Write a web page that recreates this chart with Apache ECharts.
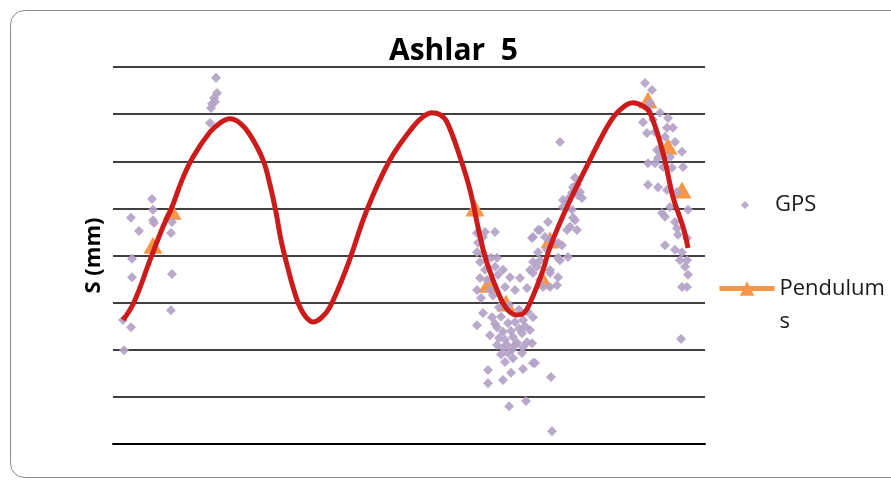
<!DOCTYPE html>
<html><head><meta charset="utf-8">
<script src="https://cdn.jsdelivr.net/npm/echarts@6/dist/echarts.min.js"></script>
<style>html,body{margin:0;padding:0;background:#fff}#c{width:891px;height:482px}</style>
</head><body><div id="c"></div>
<script>
var titleText = 'Ashlar  5';
var yAxisName = 'S (mm)';
var seriesNames = ['GPS', 'Pendulums'];

var gpsData = [
  [9.75,1.20],[10,0.97],[4.5,0.80],[10,0.75],[10.25,0.69],[6.5,0.52],[14.75,0.71],[14.5,0.48],[4.75,-0.07],[4.75,-0.46],[14.75,-0.39],[14.5,-1.16],[2.5,-1.37],[4.5,-1.52],[2.75,-2.01],
  [25.75,3.77],[26,3.45],[25.25,3.34],[24.75,3.22],[24.5,3.13],[25.5,3.26],[24.25,2.81],
  [91,0.48],[93,0.50],[95.5,0.50],[91.25,0.27],[91,0.07],[92.5,0.05],[96,-0.05],[91.75,-0.14],[95.5,-0.24],[91.75,-0.48],[93.5,-0.52],[91,-0.73],[96.25,-0.41],[99.25,-0.46],[101.75,-0.48],[94.25,-0.73],[98,-0.67],[100.5,-0.73],[103.5,-0.69],[104.25,-0.31],[105,-0.14],[104.75,0.37],[106.75,0.54],[108.75,0.71],[109.25,0.33],[111.25,0.27],[108.5,0.12],[106.25,0.07],[111.75,-0.10],[109.25,-0.31],[106.75,-0.52],[109.25,-0.67],[111.25,-0.46],[113.75,-0.03],[113.5,0.54],[116,0.54],[115.5,0.75],[114.75,0.97],[112.5,1.18],[114.25,1.24],[116.25,1.28],[115,1.45],[92.5,0.39],
  [93,-0.30],[94.5,-0.05],[92,-0.90],[95,-0.85],[97.5,-0.30],
  [92.5,-1.22],[91,-1.48],[94.75,-1.31],[94.25,-1.69],[96,-1.52],[97.5,-1.62],[98.75,-1.43],[100.5,-1.41],[102.5,-1.37],[103.75,-1.20],[104.25,-1.58],[102.25,-1.65],[100,-1.73],[98,-1.79],[96,-1.90],[97.5,-1.96],[100.5,-1.90],[102.5,-1.94],[103.5,-1.84],[102.25,-2.07],[98.75,-2.07],[98,-2.26],[100,-2.18],[105,-2.28],[93.75,-2.43],[93.75,-2.71],[97.5,-2.64],[99.5,-2.49],[102.5,-2.41],[109.5,-2.58],[99,-3.20],[103.25,-3.09],[109.75,-3.73],
  [99,-1.05],[101.5,-1.15],[96.5,-1.10],
  [97,-1.30],[99.5,-1.60],[101,-1.85],[96.5,-1.75],[98.5,-1.90],[101.5,-1.55],[95.5,-1.45],[103,-1.50],[99.75,-2.00],[97,-2.10],
  [111.75,2.41],[115.5,1.65],[116,1.50],[116.75,1.35],[114.75,1.33],[117.25,1.22],[113.5,1.14],[112.5,1.03],[115,0.80],[114.25,0.61],[106.25,0.54],[105,0.39],[108,0.39],[109.75,0.29],[112.25,0.22],[111.25,-0.05],[106.75,-0.10],[106,-0.24],[105,-0.37],[109.25,-0.37],[111,-0.63],[107.5,-0.67],[105,-1.31],[104.75,-1.86],[105.5,-2.28],
  [133,3.66],[134.75,3.51],[134.25,3.24],[133.75,3.15],[136.75,3.03],[132.5,2.83],[135,2.88],[138.75,2.92],[140,2.71],[138.5,2.71],[133.5,2.60],[135.5,2.62],[138,2.52],[140.5,2.41],[136,2.24],[137.25,2.20],[142.25,2.20],[136.25,2.07],[139.25,2.09],[133.75,1.96],[135.5,1.96],[137.5,1.88],[139.75,1.86],[142.5,1.88],[133.75,1.50],[136.25,1.45],[138.5,1.39],[141,1.35],[139.25,1.03],[143.75,0.97],[137.25,0.90],[138,0.82],[140.5,0.71],[141,0.58],[141.25,0.44],[143.5,0.37],[138,0.22],[140.5,0.12],[142.25,0.07],[141.75,-0.10],[143.5,-0.10],[143,-0.24],[143.75,-0.41],[142.25,-0.67],[143.5,-0.67],[142,-1.77]
];

var pendulumData = [
  [10,0.22],[14.75,0.94],[90.5,1.01],[93.75,-0.61],[98.25,-1.01],[107.5,-0.52],[109.25,0.33],[133.75,3.30],[138.75,2.32],[142.25,1.39]
];

var fitCurve = [
  [2.5,-1.37],[5.25,-0.99],[9.25,-0.10],[12.5,0.61],[14.75,1.03],[17.25,1.60],[20,2.09],[24.25,2.62],[26.75,2.81],[29.25,2.90],[31.75,2.81],[34.25,2.56],[37.5,2.03],[39.25,1.50],[40.75,0.92],[42,0.33],[43.5,-0.20],[46,-0.94],[48,-1.28],[50,-1.41],[52,-1.33],[54.25,-1.09],[58.5,-0.24],[63.5,0.97],[69.25,2.03],[75,2.73],[77.75,2.96],[79.75,3.03],[81.75,2.99],[83.5,2.83],[86.75,2.09],[89.25,1.39],[91.75,0.41],[93.5,-0.16],[96.75,-0.88],[98.75,-1.16],[101,-1.26],[102.75,-1.22],[104.25,-1.01],[107.5,-0.31],[109.25,0.18],[113.5,1.03],[119.25,2.03],[121.75,2.45],[124.25,2.83],[126.75,3.09],[130,3.24],[132.5,3.17],[134.25,3.03],[137.5,2.18],[140,1.24],[142.5,0.61],[143.75,0.16]
];

var FONT = 'Open Sans';
var chart = echarts.init(document.getElementById('c'), null, {renderer: 'canvas'});
chart.setOption({
  backgroundColor: '#ffffff',
  animation: false,
  graphic: [{
    type: 'rect', silent: true, z: -10,
    shape: {x: 10.5, y: 10.5, width: 900, height: 467, r: 14},
    style: {fill: '#ffffff', stroke: '#8c8c8c', lineWidth: 1}
  }],
  title: {
    text: titleText, left: 389, top: 36, padding: 0,
    textStyle: {fontFamily: FONT, fontWeight: 'bold', fontSize: 30, color: '#000'}
  },
  legend: [{
    data: [{name: seriesNames[0], icon: 'diamond'}],
    formatter: function (name) { return '{g|' + name + '}'; },
    orient: 'vertical', left: 741, top: 189, padding: 0,
    itemWidth: 8, itemHeight: 8, itemGap: 5,
    textStyle: {fontFamily: FONT, fontSize: 22, color: '#1a1a1a', lineHeight: 32,
      rich: {g: {fontFamily: FONT, fontSize: 22, color: '#1a1a1a', lineHeight: 32, padding: [0, 0, 0, 21]}}}
  }, {
    data: [{name: seriesNames[1], textStyle: {width: 108, overflow: 'breakAll'}}],
    formatter: function (name) { return '\n' + name; },
    orient: 'vertical', left: 717, top: 239, padding: 0,
    itemWidth: 55, itemHeight: 18, itemGap: 5,
    lineStyle: {width: 5, color: '#F79646', opacity: 1},
    textStyle: {fontFamily: FONT, fontSize: 22, color: '#1a1a1a', lineHeight: 33}
  }],
  grid: {left: 113, right: 186, top: 67, bottom: 38},
  xAxis: {
    type: 'value', min: 0, max: 148,
    axisLine: {show: true, onZero: false, lineStyle: {color: '#000', width: 2}},
    axisTick: {show: false}, axisLabel: {show: false}, splitLine: {show: false}
  },
  yAxis: {
    type: 'value', min: -4, max: 4, interval: 1,
    name: yAxisName, nameLocation: 'middle', nameGap: 8, nameRotate: 90,
    nameTextStyle: {fontFamily: FONT, fontWeight: 'bold', fontSize: 22, color: '#000'},
    axisLine: {show: false}, axisTick: {show: false}, axisLabel: {show: false},
    splitLine: {show: true, lineStyle: {color: '#000', width: 1.6}}
  },
  series: [{
    name: seriesNames[1], type: 'line', data: pendulumData,
    symbol: 'triangle', symbolSize: [19, 17],
    itemStyle: {color: '#F79646'},
    lineStyle: {width: 0, opacity: 0, color: '#F79646'},
    z: 2
  }, {
    name: seriesNames[0], type: 'scatter', data: gpsData,
    symbol: 'diamond', symbolSize: 10,
    itemStyle: {color: '#B3A2C7', opacity: 0.92},
    z: 3
  }, {
    name: 'fit', type: 'line', data: fitCurve, smooth: 0.4,
    showSymbol: false, symbol: 'none',
    lineStyle: {color: '#CC1B1B', width: 5},
    z: 4
  }]
});
</script></body></html>
